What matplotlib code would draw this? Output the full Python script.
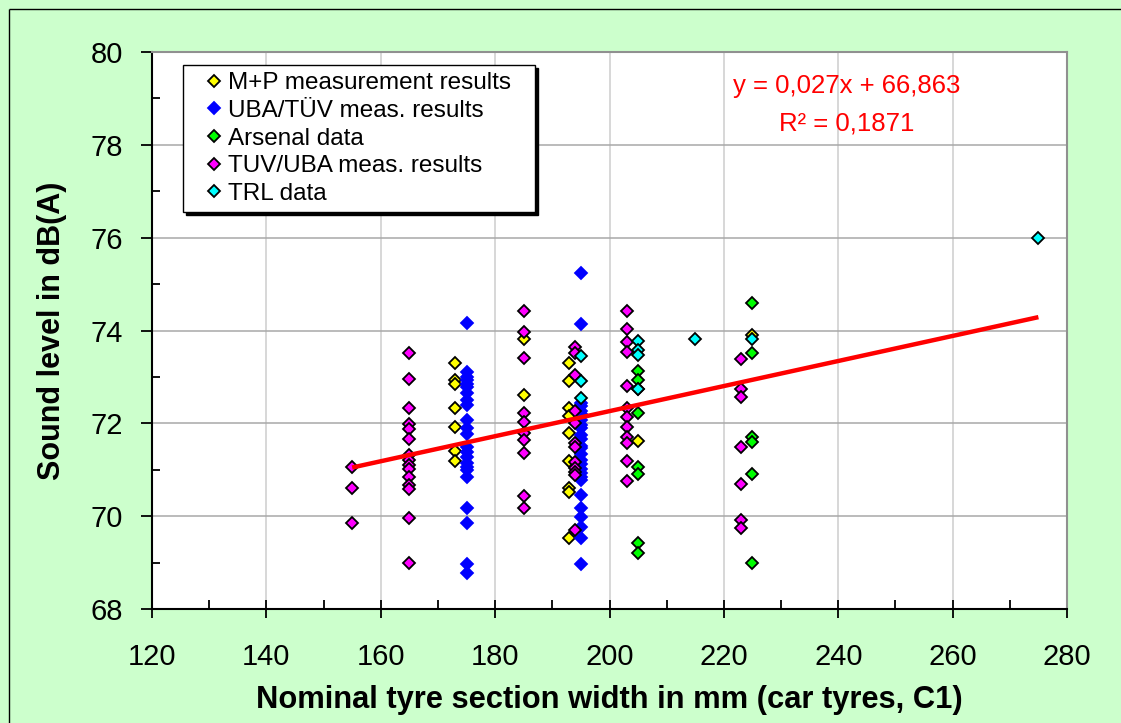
import matplotlib
matplotlib.use("Agg")
import matplotlib.pyplot as plt
from matplotlib.lines import Line2D
from matplotlib.legend_handler import HandlerLine2D
from matplotlib.ticker import MultipleLocator
import numpy as np

plt.rcParams['font.family'] = ['Liberation Sans', 'DejaVu Sans']

# ---------------- data ----------------
series_labels = ["M+P measurement results", "UBA/TÜV meas. results", "Arsenal data",
                 "TUV/UBA meas. results", "TRL data"]
series_colors = ["#FFFF00", "#0000FF", "#00FF00", "#FF00FF", "#00FFFF"]

mp_widths = [173, 185, 193, 205, 225]
mp_levels = [[73.31, 72.93, 72.84, 72.32, 71.93, 71.41, 71.18],
             [73.81, 72.61],
             [73.29, 72.92, 72.32, 72.15, 71.80, 71.19, 70.60, 70.51, 69.52],
             [71.62],
             [73.90]]

uba_widths = [175, 195]
uba_levels = [[74.17, 73.11, 73.00, 72.93, 72.85, 72.79, 72.65, 72.50, 72.39, 72.07, 71.89,
               71.78, 71.50, 71.39, 71.28, 71.14, 71.05, 70.99, 70.85, 70.17, 69.86, 68.98, 68.77],
              [75.24, 74.14, 72.44, 72.38, 72.27, 72.20, 72.08, 71.96, 71.90, 71.74, 71.66,
               71.52, 71.47, 71.33, 71.22, 71.12, 71.02, 70.93, 70.84, 70.78, 70.46, 70.17,
               69.99, 69.77, 69.52, 68.98]]

ars_widths = [205, 225]
ars_levels = [[73.13, 72.93, 72.75, 72.23, 71.07, 70.90, 69.43, 69.21],
              [74.60, 73.52, 71.71, 71.60, 70.90, 69.00]]

tuv_widths = [155, 165, 185, 194, 203, 223]
tuv_levels = [[71.07, 70.60, 69.86],
              [73.52, 72.95, 72.32, 71.99, 71.88, 71.66, 71.32, 71.21, 71.10, 71.02, 70.85,
               70.67, 70.59, 69.95, 69.00],
              [74.42, 73.97, 73.40, 72.23, 72.03, 71.80, 71.64, 71.37, 70.43, 70.17],
              [73.65, 73.51, 73.04, 72.27, 72.00, 71.57, 71.50, 71.17, 71.03, 70.96, 70.89, 69.70],
              [74.42, 74.03, 73.75, 73.54, 72.80, 72.32, 72.14, 71.93, 71.71, 71.57, 71.19, 70.76],
              [73.39, 72.75, 72.56, 71.50, 70.69, 69.92, 69.74]]

trl_widths = [195, 205, 215, 225, 275]
trl_levels = [[73.44, 72.92, 72.55],
              [73.77, 73.58, 73.47, 72.75],
              [73.82],
              [73.81],
              [76.00]]

trend_slope = 0.027
trend_intercept = 66.863
trend_text = "y = 0,027x + 66,863"
r2_text = "R² = 0,1871"

x_label = "Nominal tyre section width in mm (car tyres, C1)"
y_label = "Sound level in dB(A)"

# ---------------- figure ----------------
W, H = 1121, 723
fig = plt.figure(figsize=(W / 100, H / 100), dpi=100, facecolor="#CCFFCC")
L, R, T, B = 152, 1067, 52, 609
ax = fig.add_axes([L / W, 1 - B / H, (R - L) / W, (B - T) / H])
ax.set_facecolor("white")

# outer border (only left / top edges fall inside the picture)
bx, by = 8.5 / W, 1 - 8.5 / H
fig.lines.append(Line2D([bx, bx], [0, by], transform=fig.transFigure, color="black",
                        lw=1.0, solid_capstyle="butt"))
fig.lines.append(Line2D([bx, 1], [by, by], transform=fig.transFigure, color="black",
                        lw=1.0, solid_capstyle="butt"))


def expand(widths, levels):
    xs, ys = [], []
    for w, lv in zip(widths, levels):
        xs.extend([w] * len(lv))
        ys.extend(lv)
    return np.array(xs, float), np.array(ys, float)


all_series = [expand(mp_widths, mp_levels), expand(uba_widths, uba_levels),
              expand(ars_widths, ars_levels), expand(tuv_widths, tuv_levels),
              expand(trl_widths, trl_levels)]

MS, MEW = 5.9, 1.3
handles = []
for i, ((xs, ys), lab, col) in enumerate(zip(all_series, series_labels, series_colors)):
    edge = col if col == "#0000FF" else "black"
    h, = ax.plot(xs, ys, linestyle="none", marker="D", ms=MS, mfc=col, mec=edge,
                 mew=MEW, label=lab, zorder=3 + i)
    handles.append(h)

# trend line
allx = np.concatenate([s[0] for s in all_series])
tx = np.array([allx.min(), allx.max()])
ax.plot(tx, trend_slope * tx + trend_intercept, color="#FF0000", lw=3.2, zorder=10,
        solid_capstyle="butt")

ax.set_xlim(120, 280)
ax.set_ylim(68, 80)
ax.xaxis.set_major_locator(MultipleLocator(20))
ax.xaxis.set_minor_locator(MultipleLocator(10))
ax.yaxis.set_major_locator(MultipleLocator(2))
ax.yaxis.set_minor_locator(MultipleLocator(1))

ax.grid(True, which="major", axis="x", color="#D4D4D4", lw=1.3, zorder=0)
ax.grid(True, which="major", axis="y", color="#A8A8A8", lw=1.1, zorder=0)
ax.set_axisbelow(True)

ax.tick_params(axis="x", which="major", direction="inout", length=13.5, width=1.3,
               labelsize=21, pad=18)
ax.tick_params(axis="x", which="minor", direction="in", length=6.5, width=1.3)
ax.tick_params(axis="y", which="major", direction="out", length=8, width=1.3,
               labelsize=21, pad=13)
ax.tick_params(axis="y", which="minor", direction="in", length=6, width=1.3)

for s in ["left", "bottom"]:
    ax.spines[s].set_color("black")
    ax.spines[s].set_linewidth(1.5)
for s in ["top", "right"]:
    ax.spines[s].set_color("#909090")
    ax.spines[s].set_linewidth(1.5)

ax.set_xlabel(x_label, fontsize=22.2, fontweight="bold", va="center")
ax.xaxis.set_label_coords(0.5, -(700 - B) / (B - T))
ax.set_ylabel(y_label, fontsize=22, fontweight="bold", va="center", ha="center")
ax.yaxis.set_label_coords(-(L - 52) / (R - L), 0.5)


class ShiftedMarker(HandlerLine2D):
    def create_artists(self, legend, orig_handle, xdescent, ydescent, width, height,
                       fontsize, trans):
        arts = super().create_artists(legend, orig_handle, xdescent, ydescent, width,
                                      height, fontsize, trans)
        for a in arts:
            if a.get_marker() not in (None, "None", "none", ""):
                a.set_xdata([0.72 * width - xdescent])
        return arts


lg_x0 = (183 - L) / (R - L)
lg_w = (535 - 183) / (R - L)
lg_top = 1 - (65 - T) / (B - T)
lg_h = (215 - 65) / (B - T)
leg = ax.legend(handles=handles, loc="upper left", mode="expand",
                bbox_to_anchor=(lg_x0, lg_top - lg_h, lg_w, lg_h),
                borderaxespad=0, fontsize=17.5, frameon=True, fancybox=False,
                edgecolor="black", framealpha=1, handlelength=1.35, handletextpad=0.22,
                labelspacing=0.23, borderpad=0.3, numpoints=1,
                handler_map={Line2D: ShiftedMarker(numpoints=1)},
                shadow={"color": "black", "alpha": 1})
leg.get_frame().set_linewidth(1.0)
leg.set_zorder(20)

fig.text(847 / W, 1 - 86 / H, trend_text, color="#FF0000", fontsize=18.5,
         ha="center", va="center")
fig.text(847 / W, 1 - 123 / H, r2_text, color="#FF0000", fontsize=18.5,
         ha="center", va="center")

fig.savefig("out.png", dpi=100, facecolor=fig.get_facecolor())
